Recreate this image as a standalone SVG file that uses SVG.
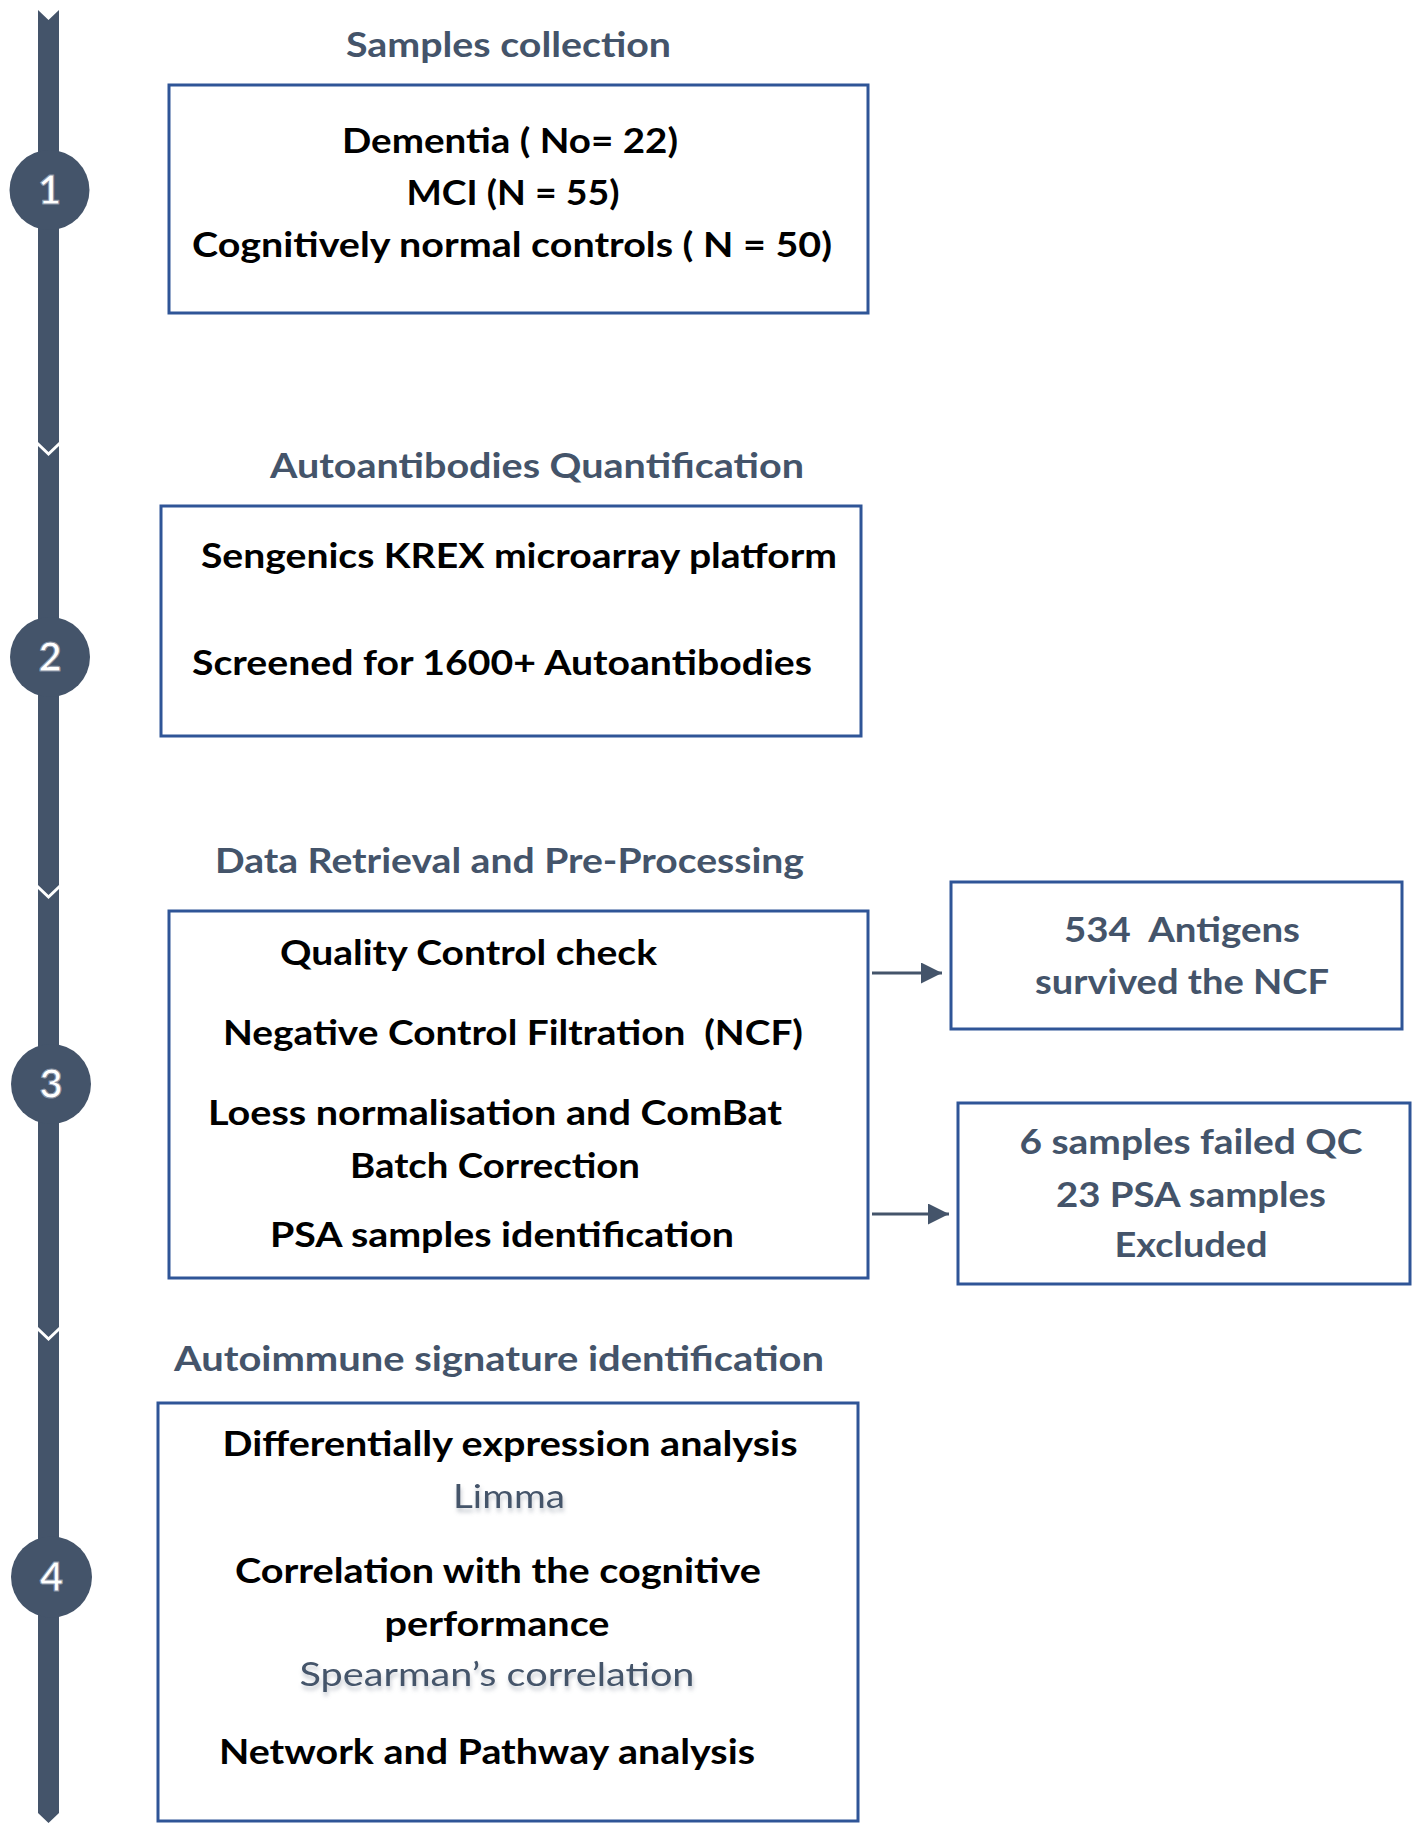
<svg xmlns="http://www.w3.org/2000/svg" width="1418" height="1832" viewBox="0 0 1418 1832">
<style>
.bar{fill:#44546A}
.circ{fill:#44546A}
.num{font-family:Lato,"Liberation Sans",sans-serif;font-weight:bold;font-size:40px;fill:#ffffff;stroke:#8a94a6;stroke-width:1;text-anchor:middle}
.head{font-family:Lato,"Liberation Sans",sans-serif;font-weight:bold;font-size:35px;fill:#44546A;text-anchor:middle}
.bt{font-family:Lato,"Liberation Sans",sans-serif;font-weight:bold;font-size:35px;fill:#000000;text-anchor:middle}
.st{font-family:Lato,"Liberation Sans",sans-serif;font-weight:bold;font-size:35px;fill:#44546A;text-anchor:middle}
.sub{font-family:Lato,"Liberation Sans",sans-serif;font-weight:normal;font-size:33px;fill:#44546A;text-anchor:middle}
.box{fill:#ffffff;stroke:#2F5597;stroke-width:3}
.conn{stroke:#44546A;stroke-width:3;fill:none}
</style>
<defs>
<marker id="arr" markerWidth="8" markerHeight="8" refX="7" refY="3.5" orient="auto" markerUnits="strokeWidth">
<path d="M0,0 L7,3.5 L0,7 Z" fill="#44546A"/>
</marker>
<filter id="sh" x="-10%" y="-20%" width="120%" height="160%">
<feDropShadow dx="1" dy="4" stdDeviation="2" flood-color="#7f8795" flood-opacity="0.45"/>
</filter>
</defs>
<rect width="1418" height="1832" fill="#ffffff"/>
<g id="timeline">
<polygon class="bar" points="38,10 48.5,20 59,10 59,442 48.5,452 38,442"/>
<polygon class="bar" points="38,446 48.5,456 59,446 59,885 48.5,895 38,885"/>
<polygon class="bar" points="38,889 48.5,899 59,889 59,1327 48.5,1337 38,1327"/>
<polygon class="bar" points="38,1331 48.5,1341 59,1331 59,1813 48.5,1823 38,1813"/>
</g>
<g id="step1"><circle class="circ" cx="49.5" cy="190" r="40"/><text class="num" x="49.5" y="204">1</text></g>
<g id="step2"><circle class="circ" cx="50" cy="657" r="40"/><text class="num" x="50" y="671">2</text></g>
<g id="step3"><circle class="circ" cx="51" cy="1084" r="40"/><text class="num" x="51" y="1098">3</text></g>
<g id="step4"><circle class="circ" cx="51.5" cy="1577" r="40.5"/><text class="num" x="51.5" y="1591">4</text></g>
<g id="samples">
<text class="head" x="508.5" y="57" textLength="325" lengthAdjust="spacingAndGlyphs">Samples collection</text>
<rect class="box" x="169" y="85" width="699" height="228"/>
<text class="bt" x="510" y="153" textLength="336" lengthAdjust="spacingAndGlyphs">Dementia ( No= 22)</text>
<text class="bt" x="513" y="205" textLength="213" lengthAdjust="spacingAndGlyphs">MCI (N = 55)</text>
<text class="bt" x="512" y="257" textLength="640" lengthAdjust="spacingAndGlyphs">Cognitively normal controls ( N = 50)</text>
</g>
<g id="quantification">
<text class="head" x="537" y="478" textLength="534" lengthAdjust="spacingAndGlyphs">Autoantibodies Quantification</text>
<rect class="box" x="161" y="506" width="700" height="230"/>
<text class="bt" x="519" y="568" textLength="636" lengthAdjust="spacingAndGlyphs">Sengenics KREX microarray platform</text>
<text class="bt" x="502" y="675" textLength="620" lengthAdjust="spacingAndGlyphs">Screened for 1600+ Autoantibodies</text>
</g>
<g id="preprocessing">
<text class="head" x="509.5" y="873" textLength="589" lengthAdjust="spacingAndGlyphs">Data Retrieval and Pre-Processing</text>
<rect class="box" x="169" y="911" width="699" height="367"/>
<text class="bt" x="468.5" y="965" textLength="377" lengthAdjust="spacingAndGlyphs">Quality Control check</text>
<text class="bt" x="513" y="1045" textLength="580" lengthAdjust="spacingAndGlyphs" xml:space="preserve">Negative Control Filtration  (NCF)</text>
<text class="bt" x="495" y="1125" textLength="574" lengthAdjust="spacingAndGlyphs">Loess normalisation and ComBat</text>
<text class="bt" x="495" y="1178" textLength="290" lengthAdjust="spacingAndGlyphs">Batch Correction</text>
<text class="bt" x="502" y="1247" textLength="464" lengthAdjust="spacingAndGlyphs">PSA samples identification</text>
</g>
<g id="antigens">
<rect class="box" x="951" y="882" width="451" height="147"/>
<text class="st" x="1182" y="942" textLength="236" lengthAdjust="spacingAndGlyphs" xml:space="preserve">534  Antigens</text>
<text class="st" x="1182" y="994" textLength="294" lengthAdjust="spacingAndGlyphs">survived the NCF</text>
</g>
<g id="excluded">
<rect class="box" x="958" y="1103" width="452" height="181"/>
<text class="st" x="1191" y="1154" textLength="343" lengthAdjust="spacingAndGlyphs">6 samples failed QC</text>
<text class="st" x="1191" y="1207" textLength="270" lengthAdjust="spacingAndGlyphs">23 PSA samples</text>
<text class="st" x="1191" y="1257" textLength="153" lengthAdjust="spacingAndGlyphs">Excluded</text>
</g>
<g id="signature">
<text class="head" x="499" y="1371" textLength="650" lengthAdjust="spacingAndGlyphs">Autoimmune signature identification</text>
<rect class="box" x="158" y="1403" width="700" height="418"/>
<text class="bt" x="510" y="1456" textLength="575" lengthAdjust="spacingAndGlyphs">Differentially expression analysis</text>
<text class="sub" x="509" y="1508" textLength="112" lengthAdjust="spacingAndGlyphs" filter="url(#sh)">Limma</text>
<text class="bt" x="498" y="1583" textLength="526" lengthAdjust="spacingAndGlyphs">Correlation with the cognitive</text>
<text class="bt" x="497" y="1636" textLength="225" lengthAdjust="spacingAndGlyphs">performance</text>
<text class="sub" x="497" y="1686" textLength="395" lengthAdjust="spacingAndGlyphs" filter="url(#sh)">Spearman’s correlation</text>
<text class="bt" x="487" y="1764" textLength="536" lengthAdjust="spacingAndGlyphs">Network and Pathway analysis</text>
</g>
<g id="connectors">
<line class="conn" x1="872" y1="973" x2="942" y2="973" marker-end="url(#arr)"/>
<line class="conn" x1="872" y1="1214" x2="949" y2="1214" marker-end="url(#arr)"/>
</g>
</svg>
